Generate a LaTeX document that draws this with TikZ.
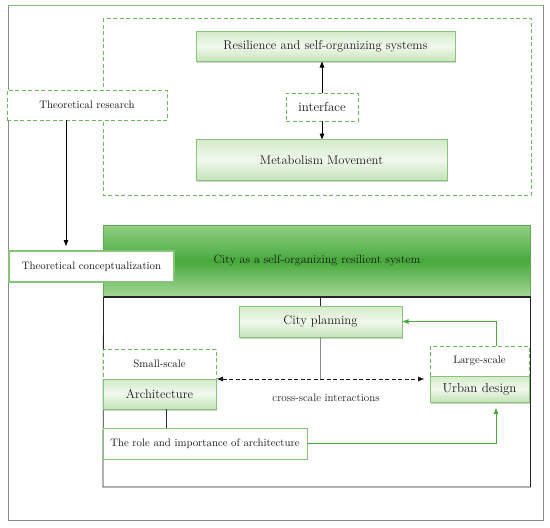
\documentclass[tikz,border=0pt]{standalone}
\usetikzlibrary{shadows,arrows.meta}
\definecolor{gborder}{HTML}{86C578}
\definecolor{gdash}{HTML}{6DB85D}
\definecolor{gtop}{HTML}{D3EBCA}
\definecolor{gmid}{HTML}{F1F8ED}
\definecolor{gbot}{HTML}{C4E3B8}
\definecolor{ctop}{HTML}{93CF85}
\definecolor{cmid}{HTML}{46A93B}
\definecolor{cbot}{HTML}{A6D899}
\definecolor{cborder}{HTML}{5DAF50}
\definecolor{garr}{HTML}{4DA93F}
\definecolor{frameg}{HTML}{8A8A8A}
\begin{document}
\begin{tikzpicture}[x=1pt,y=-1pt,
  every node/.style={inner sep=0pt, outer sep=0pt, text=black!90},
  gbox/.style={draw=gborder, line width=0.8pt, top color=gtop, bottom color=gbot, middle color=gmid,
     drop shadow={shadow xshift=1.2pt, shadow yshift=-1.5pt, fill=black!35}},
  dbox/.style={draw=gdash, dashed, dash pattern=on 4pt off 2.5pt, line width=0.9pt, fill=white},
  wbox/.style={draw=gborder, line width=1pt, fill=white},
  fbig/.style={font=\fontsize{12.6}{14}\selectfont},
  fmid/.style={font=\fontsize{12}{14}\selectfont},
  fsmall/.style={font=\fontsize{10.8}{12}\selectfont},
  barrow/.style={line width=0.9pt, -{Triangle[length=6pt,width=4.5pt]}},
  garrow/.style={draw=garr, line width=0.9pt, -{Triangle[length=6pt,width=4.5pt]}, shorten >=0.5pt}
]
\useasboundingbox (0,0) rectangle (550,528);
% outer frame
\draw[frameg, line width=0.8pt] (8,5) rectangle (543,520);
\draw[gborder, line width=1pt] (8,5) -- (543,5);
% big dashed frame
\draw[draw=gdash, dashed, dash pattern=on 4pt off 2.5pt, line width=0.9pt] (103,18) rectangle (531,195);
% top group
\node[gbox, fbig, minimum width=259pt, minimum height=30pt] (res) at (325.5,46.5) {Resilience and self-organizing systems};
\node[gbox, fbig, minimum width=251pt, minimum height=41pt] (meta) at (321.5,160) {Metabolism Movement};
\node[dbox, font=\fontsize{13}{15}\selectfont, minimum width=72pt, minimum height=28pt] (iface) at (322,107) {interface};
\draw[barrow] (iface.north) -- (iface.north |- res.south);
\draw[barrow] (iface.south) -- (iface.south |- meta.north);
% theoretical research
\node[dbox, fsmall, minimum width=160pt, minimum height=30pt] (research) at (87,105) {Theoretical research};
% city box
\node[draw=cborder, line width=0.8pt, top color=ctop, bottom color=cbot, middle color=cmid,
      fmid, minimum width=427pt, minimum height=72pt] (city) at (317,261) {City as a self-organizing resilient system};
\draw[black!85, line width=1.2pt] (city.south west) -- (city.south east);
\draw[black!85, line width=0.8pt] (city.south west) -- (103,487) -- (530.5,487) -- (city.south east);
% theoretical conceptualization
\node[wbox, line width=2pt, fsmall, minimum width=165pt, minimum height=31pt] (concept) at (91.5,266.5) {Theoretical conceptualization};
\draw[barrow, shorten >=5pt] ([xshift=-21pt]research.south) -- ([xshift=-21pt]research.south |- concept.north);
% lower group
\node[gbox, fbig, minimum width=163pt, minimum height=31pt] (plan) at (320.5,321.5) {City planning};
\draw[black!85, line width=0.8pt] (plan.north |- city.south) -- (plan.north);
\node[dbox, fsmall, minimum width=113pt, minimum height=30pt] (small) at (159.5,364) {Small-scale};
\node[gbox, fbig, minimum width=113pt, minimum height=30pt] (arch) at (159.5,394) {Architecture};
\node[dbox, fsmall, minimum width=99pt, minimum height=30pt] (large) at (479.5,361) {Large-scale};
\node[gbox, font=\fontsize{13}{15}\selectfont, minimum width=99pt, minimum height=26pt] (urban) at (479.5,389) {Urban design};
\draw[black!45, line width=0.6pt] (plan.south) -- (plan.south |- small.south east);
\draw[black!90, line width=0.9pt, dash pattern=on 4pt off 2.5pt,
      {Triangle[length=6pt,width=4.5pt]}-{Triangle[length=6pt,width=4.5pt]}, shorten >=6pt, shorten <=1pt]
      (small.south east) -- (small.south east -| large.west);
\node[font=\fontsize{11}{13}\selectfont] (cross) at (326,398) {cross-scale interactions};
\node[wbox, fsmall, minimum width=204pt, minimum height=31pt] (role) at (205,443.5) {The role and importance of architecture};
\draw[black!80, line width=0.9pt] ([xshift=6.5pt]arch.south) -- ([xshift=6.5pt]arch.south |- role.north);
\draw[garrow, shorten >=6pt] (role.east) -| ([xshift=16.5pt]urban.south);
\draw[garrow] ([xshift=16.5pt]large.north) |- (plan.east);
\end{tikzpicture}
\end{document}
